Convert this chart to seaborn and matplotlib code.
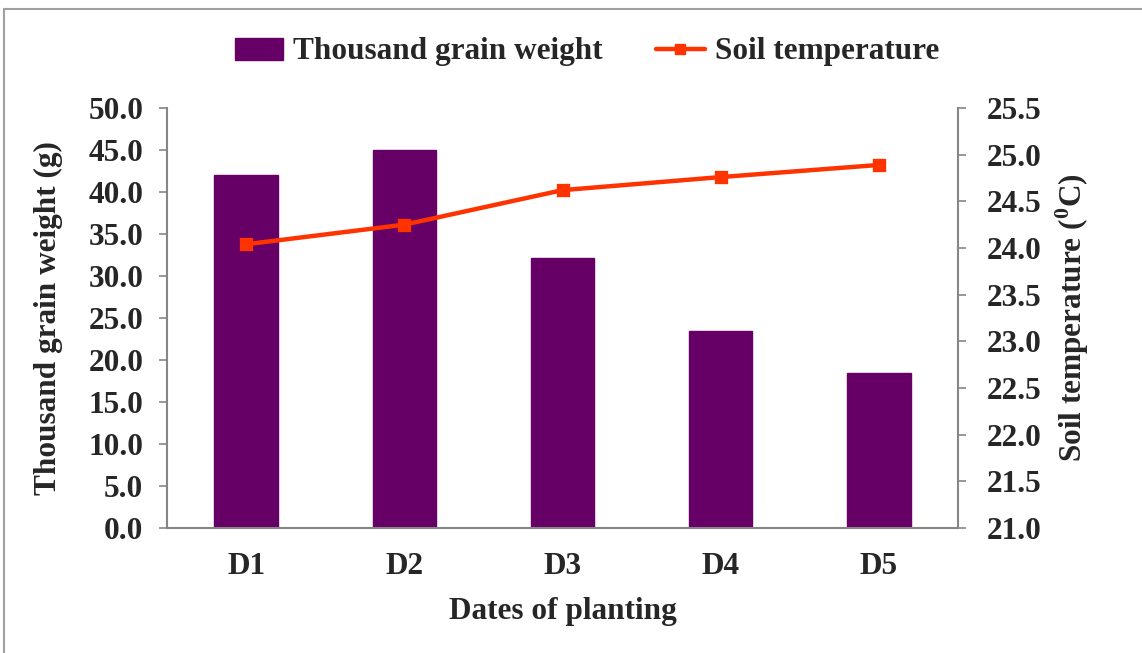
import matplotlib
matplotlib.use("Agg")
import matplotlib.pyplot as plt
from matplotlib.patches import Rectangle, Patch
from matplotlib.lines import Line2D
import seaborn as sns
import pandas as pd
import numpy as np

dates = ["D1", "D2", "D3", "D4", "D5"]
grain_weight = [42.0, 45.0, 32.1, 23.45, 18.45]
soil_temp = [24.04, 24.25, 24.62, 24.76, 24.89]
left_ticks = [0, 5, 10, 15, 20, 25, 30, 35, 40, 45, 50]
right_ticks = [21.0, 21.5, 22.0, 22.5, 23.0, 23.5, 24.0, 24.5, 25.0, 25.5]

sns.set_theme(style="white")
plt.rcParams['font.family'] = ['Liberation Serif', 'DejaVu Serif']
plt.rcParams['font.weight'] = 'bold'
plt.rcParams['mathtext.fontset'] = 'custom'
plt.rcParams['mathtext.rm'] = 'Liberation Serif:bold'
plt.rcParams['mathtext.bf'] = 'Liberation Serif:bold'

BAR = "#660066"
LINE = "#FF3300"
GRAY = "#868686"
FS = 22.5

df = pd.DataFrame({"date": dates, "weight": grain_weight, "temp": soil_temp})

fig = plt.figure(figsize=(11.42, 6.53), dpi=100)
ax = fig.add_axes([167/1142, 1-528/653, (958-167)/1142, 420/653])
sns.barplot(data=df, x="date", y="weight", color=BAR, width=0.4, ax=ax,
            saturation=1, edgecolor=BAR)
ax.set_ylim(0, 50)
ax.set_xlim(-0.5, 4.5)
ax.set_yticks(left_ticks)
ax.set_yticklabels([f"{v:.1f}" for v in left_ticks], fontsize=FS, fontweight='bold')
ax.set_xticks(range(len(dates)))
ax.set_xticklabels(dates, fontsize=FS, fontweight='bold')
ax.set_xticks(np.arange(-0.5, 5, 1), minor=True)
ax.tick_params(axis='x', which='major', length=0, pad=17)
ax.tick_params(axis='x', which='minor', length=8, width=1.2, color=GRAY, direction='out')
ax.tick_params(axis='y', length=6, width=1.2, color=GRAY, direction='out', pad=11, left=True)
ax.set_xlabel("Dates of planting", fontsize=FS, fontweight='bold', labelpad=12)
ax.set_ylabel("Thousand grain weight (g)", fontsize=FS, fontweight='bold', labelpad=18)
for s in ["top", "right"]:
    ax.spines[s].set_visible(False)
for s in ["left", "bottom"]:
    ax.spines[s].set_color(GRAY)
    ax.spines[s].set_linewidth(1.5)

ax2 = ax.twinx()
sns.pointplot(data=df, x="date", y="temp", color=LINE, markers="s",
              markersize=7.5, linewidth=3.2, ax=ax2)
ax2.set_ylim(21.0, 25.5)
ax2.set_xlim(-0.5, 4.5)
ax2.set_yticks(right_ticks)
ax2.set_yticklabels([f"{v:.1f}" for v in right_ticks], fontsize=FS, fontweight='bold')
ax2.tick_params(axis='y', length=6, width=1.2, color=GRAY, direction='out', pad=15, right=True)
ax2.set_ylabel("Soil temperature ($^{0}$C)", fontsize=FS, fontweight='bold', labelpad=8)
ax2.set_xlabel("")
for s in ["top", "left", "bottom"]:
    ax2.spines[s].set_visible(False)
ax2.spines["right"].set_color(GRAY)
ax2.spines["right"].set_linewidth(1.5)

handles = [Patch(facecolor=BAR, edgecolor=BAR),
           Line2D([0], [0], color=LINE, lw=3.2, marker='s', markersize=7.5)]
fig.legend(handles, ["Thousand grain weight", "Soil temperature"], loc='center',
           bbox_to_anchor=(587/1142, 1-52/653), ncol=2, frameon=False,
           prop={'size': FS, 'weight': 'bold'}, handlelength=1.55, columnspacing=1.7,
           handletextpad=0.32)

fig.add_artist(Rectangle((4/1142, -0.05), 1.2, 0.05 + 1 - 9/653, fill=False,
                         edgecolor="#A0A0A0", linewidth=1.5, transform=fig.transFigure))

fig.savefig("out.png", dpi=100)
